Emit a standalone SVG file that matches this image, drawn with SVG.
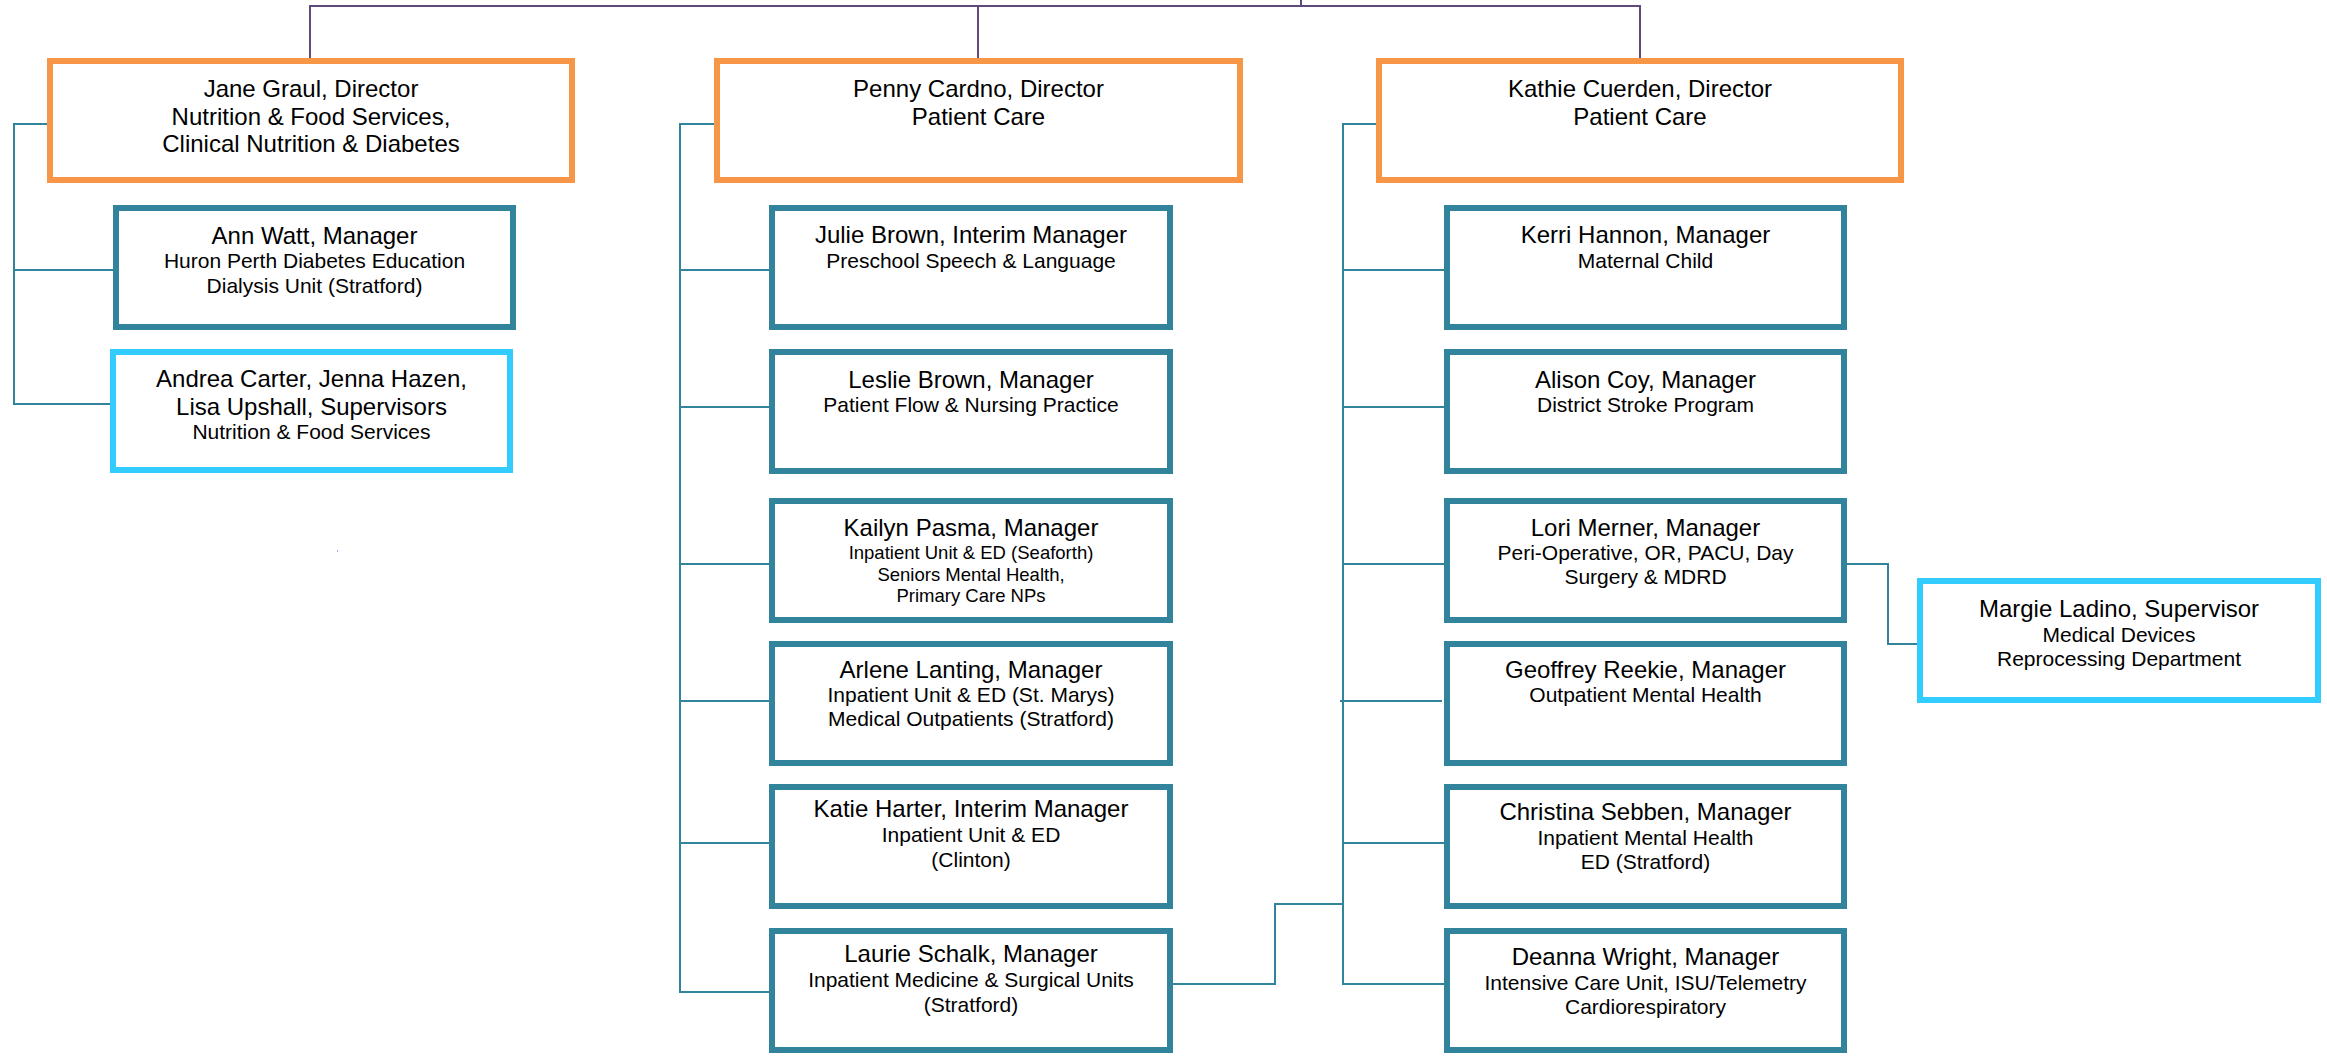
<svg xmlns="http://www.w3.org/2000/svg" width="2327" height="1063" viewBox="0 0 2327 1063">
<style>
text{font-family:"Liberation Sans",Arial,sans-serif;fill:#000;text-anchor:middle}
.dir{fill:#fff;stroke:#F79646;stroke-width:6}
.mgr{fill:#fff;stroke:#31849B;stroke-width:6}
.sup{fill:#fff;stroke:#33CCFF;stroke-width:6}
.n{font-size:24px}
.s{font-size:21px}
.t{font-size:18.5px}
.lk{fill:none;stroke:#31849B;stroke-width:2}
.top{fill:none;stroke:#604A7B;stroke-width:2}
</style>
<rect width="2327" height="1063" fill="#fff"/>
<g id="connectors">
<path class="top" d="M310,61V6H1640V61M978,6V61M1301,0V6"/>
<path class="lk" d="M47,124H14V404H110M14,270H113"/>
<path class="lk" d="M714,124H680V992H769M680,270H769M680,407H769M680,564H769M680,701H769M680,843H769"/>
<path class="lk" d="M1376,124H1343V984H1444M1343,270H1444M1343,407H1444M1343,564H1444M1343,843H1444M1340,701H1442"/>
<path class="lk" d="M1173,984H1275V904H1343"/>
<path class="lk" d="M1847,564H1888V644H1917"/>
</g>
<g id="jane-graul"><rect class="dir" x="50" y="61" width="522" height="119"/>
<text class="n" x="311" y="97">Jane Graul, Director</text>
<text class="n" x="311" y="124.5">Nutrition &amp; Food Services,</text>
<text class="n" x="311" y="152">Clinical Nutrition &amp; Diabetes</text></g>
<g id="penny-cardno"><rect class="dir" x="717" y="61" width="523" height="119"/>
<text class="n" x="978.5" y="97">Penny Cardno, Director</text>
<text class="n" x="978.5" y="124.5">Patient Care</text></g>
<g id="kathie-cuerden"><rect class="dir" x="1379" y="61" width="522" height="119"/>
<text class="n" x="1640" y="97">Kathie Cuerden, Director</text>
<text class="n" x="1640" y="124.5">Patient Care</text></g>
<g id="ann-watt"><rect class="mgr" x="116" y="208" width="397" height="119"/>
<text class="n" x="314.5" y="244">Ann Watt, Manager</text>
<text class="s" x="314.5" y="268">Huron Perth Diabetes Education</text>
<text class="s" x="314.5" y="293">Dialysis Unit (Stratford)</text></g>
<g id="andrea-carter"><rect class="sup" x="113" y="352" width="397" height="118"/>
<text class="n" x="311.5" y="387">Andrea Carter, Jenna Hazen,</text>
<text class="n" x="311.5" y="414.5">Lisa Upshall, Supervisors</text>
<text class="s" x="311.5" y="438.5">Nutrition &amp; Food Services</text></g>
<g id="julie-brown"><rect class="mgr" x="772" y="208" width="398" height="119"/>
<text class="n" x="971" y="243">Julie Brown, Interim Manager</text>
<text class="s" x="971" y="268">Preschool Speech &amp; Language</text></g>
<g id="leslie-brown"><rect class="mgr" x="772" y="352" width="398" height="119"/>
<text class="n" x="971" y="388">Leslie Brown, Manager</text>
<text class="s" x="971" y="412">Patient Flow &amp; Nursing Practice</text></g>
<g id="kailyn-pasma"><rect class="mgr" x="772" y="501" width="398" height="119"/>
<text class="n" x="971" y="536">Kailyn Pasma, Manager</text>
<text class="t" x="971" y="559">Inpatient Unit &amp; ED (Seaforth)</text>
<text class="t" x="971" y="580.5">Seniors Mental Health,</text>
<text class="t" x="971" y="602">Primary Care NPs</text></g>
<g id="arlene-lanting"><rect class="mgr" x="772" y="644" width="398" height="119"/>
<text class="n" x="971" y="678">Arlene Lanting, Manager</text>
<text class="s" x="971" y="702">Inpatient Unit &amp; ED (St. Marys)</text>
<text class="s" x="971" y="726">Medical Outpatients (Stratford)</text></g>
<g id="katie-harter"><rect class="mgr" x="772" y="787" width="398" height="119"/>
<text class="n" x="971" y="817">Katie Harter, Interim Manager</text>
<text class="s" x="971" y="842">Inpatient Unit &amp; ED</text>
<text class="s" x="971" y="867">(Clinton)</text></g>
<g id="laurie-schalk"><rect class="mgr" x="772" y="931" width="398" height="119"/>
<text class="n" x="971" y="962">Laurie Schalk, Manager</text>
<text class="s" x="971" y="987">Inpatient Medicine &amp; Surgical Units</text>
<text class="s" x="971" y="1012">(Stratford)</text></g>
<g id="kerri-hannon"><rect class="mgr" x="1447" y="208" width="397" height="119"/>
<text class="n" x="1645.5" y="243">Kerri Hannon, Manager</text>
<text class="s" x="1645.5" y="268">Maternal Child</text></g>
<g id="alison-coy"><rect class="mgr" x="1447" y="352" width="397" height="119"/>
<text class="n" x="1645.5" y="388">Alison Coy, Manager</text>
<text class="s" x="1645.5" y="412">District Stroke Program</text></g>
<g id="lori-merner"><rect class="mgr" x="1447" y="501" width="397" height="119"/>
<text class="n" x="1645.5" y="536">Lori Merner, Manager</text>
<text class="s" x="1645.5" y="560">Peri-Operative, OR, PACU, Day</text>
<text class="s" x="1645.5" y="584">Surgery &amp; MDRD</text></g>
<g id="geoffrey-reekie"><rect class="mgr" x="1447" y="644" width="397" height="119"/>
<text class="n" x="1645.5" y="678">Geoffrey Reekie, Manager</text>
<text class="s" x="1645.5" y="702">Outpatient Mental Health</text></g>
<g id="christina-sebben"><rect class="mgr" x="1447" y="787" width="397" height="119"/>
<text class="n" x="1645.5" y="820">Christina Sebben, Manager</text>
<text class="s" x="1645.5" y="845">Inpatient Mental Health</text>
<text class="s" x="1645.5" y="869">ED (Stratford)</text></g>
<g id="deanna-wright"><rect class="mgr" x="1447" y="931" width="397" height="119"/>
<text class="n" x="1645.5" y="965">Deanna Wright, Manager</text>
<text class="s" x="1645.5" y="990">Intensive Care Unit, ISU/Telemetry</text>
<text class="s" x="1645.5" y="1014">Cardiorespiratory</text></g>
<g id="margie-ladino"><rect class="sup" x="1920" y="581" width="398" height="119"/>
<text class="n" x="2119" y="617">Margie Ladino, Supervisor</text>
<text class="s" x="2119" y="642">Medical Devices</text>
<text class="s" x="2119" y="666">Reprocessing Department</text></g>
<rect x="337" y="550" width="1" height="2" fill="#8FB4E3"/>
</svg>
